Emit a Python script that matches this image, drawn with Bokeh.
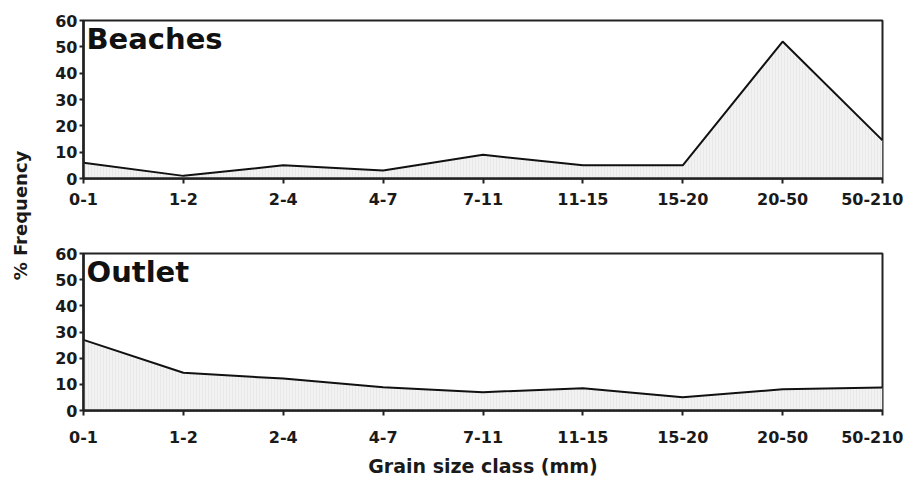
import math
from bokeh.plotting import figure
from bokeh.layouts import row, column
from bokeh.models import Range1d, FixedTicker, Label
from bokeh.core.properties import value
from bokeh.embed import file_html
from bokeh.resources import INLINE

categories = ["0-1", "1-2", "2-4", "4-7", "7-11", "11-15", "15-20", "20-50", "50-210"]
beaches = [6, 1, 5, 3, 9, 5, 5, 52, 14.5]
outlet = [27, 14.4, 12.2, 8.9, 7.0, 8.5, 5.1, 8.1, 8.8]
y_ticks = [0, 10, 20, 30, 40, 50, 60]
FONT = "DejaVu Sans"


def panel(vals, title, height, top, bottom, label_standoff, xlabel=None):
    x = list(range(len(categories)))
    p = figure(width=865, height=height, output_backend="svg", toolbar_location=None,
               x_range=Range1d(0, len(categories) - 1), y_range=Range1d(0, 60),
               min_border_left=45, min_border_right=21, min_border_top=top,
               min_border_bottom=bottom)
    p.xgrid.visible = False
    p.ygrid.visible = False
    p.outline_line_color = "#222222"
    p.outline_line_width = 2
    p.background_fill_color = "white"
    p.border_fill_color = "white"

    p.varea(x=x, y1=[0] * len(x), y2=vals, fill_color="#f2f2f2",
            hatch_pattern="vertical_line", hatch_color="#dedede", hatch_scale=3,
            hatch_weight=0.5)
    p.line(x, vals, line_color="#111111", line_width=2)

    p.xaxis.ticker = FixedTicker(ticks=x)
    p.xaxis.major_label_overrides = {i: c for i, c in enumerate(categories)}
    p.yaxis.ticker = FixedTicker(ticks=y_ticks)
    for ax in (p.xaxis[0], p.yaxis[0]):
        ax.axis_line_width = 2.5
        ax.axis_line_color = "#222222"
        ax.major_tick_line_color = "#222222"
        ax.major_tick_line_width = 2
        ax.major_tick_in = 0
        ax.minor_tick_line_color = None
        ax.major_label_text_font = FONT
        ax.major_label_text_font_style = "bold"
        ax.major_label_text_font_size = "16px"
        ax.major_label_text_color = "#1a1a1a"
    p.xaxis.major_tick_out = 5
    p.yaxis.major_tick_out = 4
    p.xaxis.major_label_standoff = label_standoff
    p.yaxis.major_label_standoff = 2
    if xlabel:
        p.xaxis.axis_label = xlabel
        p.xaxis.axis_label_text_font = FONT
        p.xaxis.axis_label_text_font_style = "bold"
        p.xaxis.axis_label_text_font_size = "19px"
        p.xaxis.axis_label_text_color = "#1a1a1a"
        p.xaxis.axis_label_standoff = 9

    p.add_layout(Label(x=0, y=60, x_offset=3, y_offset=-1, text=title,
                       text_font=FONT, text_font_style="bold", text_font_size="29px",
                       text_baseline="top", text_align="left", text_color="#111111"))
    return p


TOTAL_H = 481
top = panel(beaches, "Beaches", 235, 20, 57, 9)
bottom = panel(outlet, "Outlet", TOTAL_H - 235, 18, TOTAL_H - 235 - 18 - 157, 15,
               xlabel="Grain size class (mm)")

lab = figure(width=38, height=TOTAL_H, output_backend="svg", toolbar_location=None,
             x_range=Range1d(0, 38), y_range=Range1d(0, TOTAL_H),
             min_border=0, min_border_left=0, min_border_right=0,
             min_border_top=0, min_border_bottom=0)
lab.axis.visible = False
lab.grid.visible = False
lab.outline_line_color = None
lab.text(x=[20], y=[TOTAL_H - 215], text=["% Frequency"], angle=math.pi / 2,
         text_font=value(FONT), text_font_style="bold", text_font_size="18px",
         text_align="center", text_baseline="middle", text_color="#1a1a1a")

layout = row(lab, column(top, bottom))
open("out.html", "w").write(file_html(layout, INLINE))
